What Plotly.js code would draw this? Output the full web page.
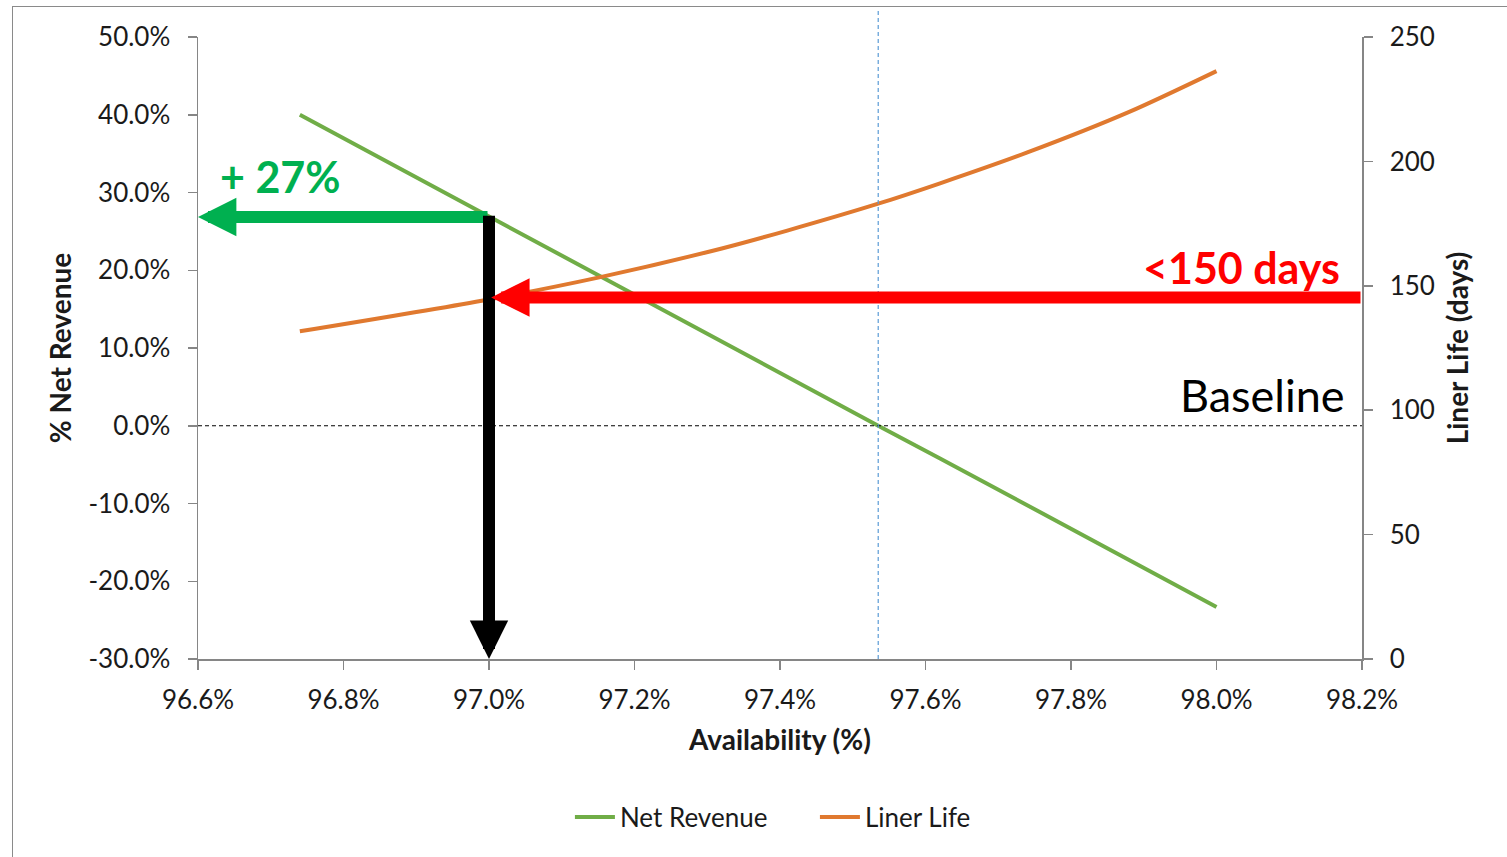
<!DOCTYPE html>
<html>
<head>
<meta charset="utf-8">
<script src="https://cdn.plot.ly/plotly-3.0.1.min.js"></script>
<style>
  html, body { margin: 0; padding: 0; background: #fff; }
  #wrap { position: relative; width: 1507px; height: 857px; overflow: hidden; }
  #chart { position: absolute; left: 0; top: 0; width: 1507px; height: 857px; }
  #frame { position: absolute; left: 12px; top: 6px; right: -10px; bottom: -10px;
           border-left: 1.5px solid #8a8a8a; border-top: 1.5px solid #8a8a8a; pointer-events: none; }
</style>
</head>
<body>
<div id="wrap">
  <div id="chart"></div>
  <div id="frame"></div>
</div>
<script>
// ---- data ----
const availability = [96.74, 96.99, 97.15, 97.32, 97.41, 97.535, 97.62, 97.74, 97.88, 98.0];
const netRevenue   = [40.0, 27.4, 19.4, 10.9, 6.3, 0.0, -4.2, -10.2, -17.3, -23.3];
const linerLife    = [131.7, 144.0, 153.3, 165.0, 172.2, 183.0, 191.2, 203.6, 219.9, 236.3];

const seriesNames = ["Net Revenue", "Liner Life"];
const xTitle = "Availability (%)";
const yTitle = "% Net Revenue";
const y2Title = "Liner Life (days)";

// tick labels
const xTickVals = [96.6, 96.8, 97.0, 97.2, 97.4, 97.6, 97.8, 98.0, 98.2];
const xTickText = ["96.6%", "96.8%", "97.0%", "97.2%", "97.4%", "97.6%", "97.8%", "98.0%", "98.2%"];
const yTickVals = [-30, -20, -10, 0, 10, 20, 30, 40, 50];
const yTickText = ["-30.0%", "-20.0%", "-10.0%", "0.0%", "10.0%", "20.0%", "30.0%", "40.0%", "50.0%"];
const y2TickVals = [0, 50, 100, 150, 200, 250];
const y2TickText = ["0", "50", "100", "150", "200", "250"];

// annotation values
const targetAvail = 97.0;       // availability of the black arrow
const targetRevenue = 26.85;    // % net revenue reached (green arrow)
const targetLife = 145.3;       // liner life at target (red arrow)
const baselineAvail = 97.535;   // baseline availability (blue dashed line)
const baselineRevenue = 0;      // baseline net revenue (black dashed line)

const FONT = "Lato, 'Open Sans', sans-serif";
const AXIS_COLOR = "#868686";
const TXT = "#1a1a1a";

const traces = [
  { x: availability, y: netRevenue, name: seriesNames[0], type: "scatter", mode: "lines",
    line: { color: "#70AD47", width: 4 }, yaxis: "y" },
  { x: availability, y: linerLife, name: seriesNames[1], type: "scatter", mode: "lines",
    line: { color: "#E0792F", width: 4, shape: "spline", smoothing: 0.8 }, yaxis: "y2" }
];

const layout = {
  width: 1507, height: 857,
  margin: { l: 198, r: 145, t: 37, b: 198 },
  paper_bgcolor: "rgba(0,0,0,0)", plot_bgcolor: "rgba(0,0,0,0)",
  font: { family: FONT, size: 26, color: TXT },
  showlegend: true,
  legend: { orientation: "h", x: 0.53, xanchor: "center", y: -0.254, yanchor: "middle",
            font: { family: FONT, size: 26, color: TXT }, traceorder: "normal",
            entrywidth: 190, itemwidth: 40 },
  xaxis: {
    range: [96.6, 98.2], tickmode: "array", tickvals: xTickVals, ticktext: xTickText,
    showgrid: false, zeroline: false, showline: true, linecolor: AXIS_COLOR, linewidth: 1.5,
    ticks: "outside", ticklen: 9, tickcolor: AXIS_COLOR, tickwidth: 1.5, ticklabelstandoff: 8,
    tickfont: { family: FONT, size: 26, color: TXT },
    title: { text: "<b>" + xTitle + "</b>", font: { family: FONT, size: 28, color: TXT }, standoff: 16 }
  },
  yaxis: {
    range: [-30, 50], tickmode: "array", tickvals: yTickVals, ticktext: yTickText,
    showgrid: false, zeroline: false, showline: true, linecolor: AXIS_COLOR, linewidth: 1.5,
    ticks: "outside", ticklen: 9, tickcolor: AXIS_COLOR, tickwidth: 1.5, ticklabelstandoff: 12,
    tickfont: { family: FONT, size: 26, color: TXT },
    title: { text: "<b>" + yTitle + "</b>", font: { family: FONT, size: 28, color: TXT }, standoff: 8 }
  },
  yaxis2: {
    overlaying: "y", side: "right", range: [0, 250], tickmode: "array", tickvals: y2TickVals, ticktext: y2TickText,
    showgrid: false, zeroline: false, showline: true, linecolor: AXIS_COLOR, linewidth: 1.5,
    ticks: "outside", ticklen: 9, tickcolor: AXIS_COLOR, tickwidth: 1.5, ticklabelstandoff: 12,
    tickfont: { family: FONT, size: 26, color: TXT },
    title: { text: "<b>" + y2Title + "</b>", font: { family: FONT, size: 28, color: TXT }, standoff: 14 }
  },
  shapes: [
    { type: "line", xref: "paper", yref: "y", x0: 0, x1: 1, y0: baselineRevenue, y1: baselineRevenue,
      line: { color: "#000", width: 1, dash: "4px,3px" } },
    { type: "line", xref: "x", yref: "paper", x0: baselineAvail, x1: baselineAvail, y0: 0, y1: 1.043,
      line: { color: "#5B9BD5", width: 1.2, dash: "4px,3px" } }
  ],
  annotations: [
    { x: 96.6, y: targetRevenue, xref: "x", yref: "y", ax: targetAvail, ay: targetRevenue,
      axref: "x", ayref: "y", text: "", showarrow: true, arrowhead: 2, arrowsize: 0.64,
      arrowwidth: 12, arrowcolor: "#00B050", standoff: 0 },
    { x: targetAvail, y: -30, xref: "x", yref: "y", ax: targetAvail, ay: 27.2,
      axref: "x", ayref: "y", text: "", showarrow: true, arrowhead: 2, arrowsize: 0.64,
      arrowwidth: 12, arrowcolor: "#000000", standoff: 0 },
    { x: 97.003, y: targetLife, xref: "x", yref: "y2", ax: 98.2, ay: targetLife,
      axref: "x", ayref: "y2", text: "", showarrow: true, arrowhead: 2, arrowsize: 0.64,
      arrowwidth: 12, arrowcolor: "#FF0000", standoff: 0 },
    { x: 96.627, y: 32.0, xref: "x", yref: "y", xanchor: "left", yanchor: "middle", showarrow: false,
      text: "<b>+ 27%</b>", font: { family: FONT, size: 43, color: "#00B050" } },
    { x: 98.173, y: 157.5, xref: "x", yref: "y2", xanchor: "right", yanchor: "middle", showarrow: false,
      text: "<b>&lt;150 days</b>", font: { family: FONT, size: 43, color: "#FF0000" } },
    { x: 98.18, y: 3.9, xref: "x", yref: "y", xanchor: "right", yanchor: "middle", showarrow: false,
      text: "Baseline", font: { family: FONT, size: 45, color: "#000000" } }
  ]
};

Plotly.newPlot("chart", traces, layout, { displayModeBar: false, staticPlot: true });
</script>
</body>
</html>
